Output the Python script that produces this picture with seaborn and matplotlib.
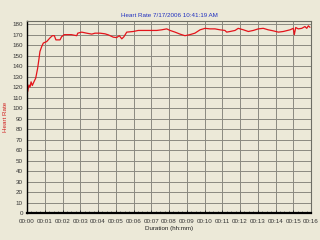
import matplotlib
matplotlib.use("Agg")
import matplotlib.pyplot as plt
import seaborn as sns
import pandas as pd
from matplotlib.ticker import MultipleLocator, FuncFormatter

title = "Heart Rate 7/17/2006 10:41:19 AM"
x_label = "Duration (hh:mm)"
y_label = "Heart Rate"

minutes = [0.0, 0.04, 0.11, 0.17, 0.23, 0.30, 0.39, 0.49, 0.60, 0.68, 0.73, 0.83, 0.92,
           1.11, 1.30, 1.43, 1.54, 1.63, 1.86, 1.95, 2.10, 2.50, 2.80, 2.86, 3.08, 3.36,
           3.65, 3.83, 4.11, 4.39, 4.58, 4.86, 5.05, 5.20, 5.34, 5.46, 5.62, 5.99, 6.27,
           6.55, 6.93, 7.31, 7.59, 7.87, 8.06, 8.34, 8.62, 8.90, 9.18, 9.46, 9.75, 10.03,
           10.31, 10.59, 10.87, 11.15, 11.25, 11.44, 11.72, 11.90, 12.19, 12.47, 12.75,
           13.03, 13.31, 13.59, 13.88, 14.16, 14.44, 14.82, 15.00, 15.06, 15.14, 15.28,
           15.48, 15.66, 15.76, 15.85, 15.94]
heart_rate = [114, 116, 122, 120, 125, 121.5, 125, 128.5, 138, 147.6, 154, 158.7, 162,
              163.4, 167, 169, 169, 165, 165, 168, 170, 170, 169, 171.4, 172.4, 171.4,
              170.5, 171.4, 171.4, 170.8, 169.8, 167.6, 167.2, 169, 166, 168, 172.4, 173,
              174, 174, 174, 174, 174.6, 175.5, 174, 172.4, 170.5, 169, 170, 171.4, 174.6,
              176, 175.5, 175.5, 174.6, 174, 172.4, 173, 174, 176, 174.6, 173, 174, 175.5,
              176, 174.6, 173.6, 172.4, 173, 174.6, 176, 170, 176.8, 175.5, 176, 177.7,
              176, 178.4, 177]

df = pd.DataFrame({"minutes": minutes, "hr": heart_rate})

bg = "#ECE9D8"
sns.set_theme(style="white")
plt.rcParams["font.family"] = ["Liberation Sans", "DejaVu Sans"]

fig = plt.figure(figsize=(3.2, 2.4), dpi=100, facecolor=bg)
ax = fig.add_axes([27/320, 1-213/240, 284/320, 192/240])
ax.set_facecolor(bg)

sns.lineplot(data=df, x="minutes", y="hr", ax=ax, color="#E4141B", linewidth=0.9)

ax.set_xlim(0, 16)
ax.set_ylim(0, 183)
ax.xaxis.set_major_locator(MultipleLocator(1))
ax.xaxis.set_minor_locator(MultipleLocator(0.25))
ax.yaxis.set_major_locator(MultipleLocator(10))
ax.xaxis.set_major_formatter(FuncFormatter(lambda v, p: f"00:{int(round(v)):02d}"))
ax.grid(True, which="major", color="#8A8A80", linewidth=0.7)
ax.set_axisbelow(True)

for side in ["top", "right"]:
    ax.spines[side].set_color("#6E6E64")
    ax.spines[side].set_linewidth(0.8)
ax.spines["bottom"].set_color("black")
ax.spines["bottom"].set_linewidth(1.6)
ax.spines["left"].set_color("black")
ax.spines["left"].set_linewidth(1.0)

ax.tick_params(axis="x", which="major", direction="in", length=2, width=0.7,
               colors="#333333", labelsize=4.5, pad=4, bottom=True)
ax.tick_params(axis="x", which="minor", direction="in", length=1.5, width=0.5,
               color="#555555", bottom=True)
ax.tick_params(axis="y", which="major", length=0, labelsize=4.5, pad=3,
               colors="#333333", left=True)

ax.set_xlabel(x_label, fontsize=4.5, color="#222222", labelpad=2)
ax.set_ylabel(y_label, fontsize=4.5, color="#D02020", labelpad=3)
ax.set_title(title, fontsize=4.5, color="#2030C0", pad=3)

fig.savefig("out.png", dpi=100, facecolor=bg)
